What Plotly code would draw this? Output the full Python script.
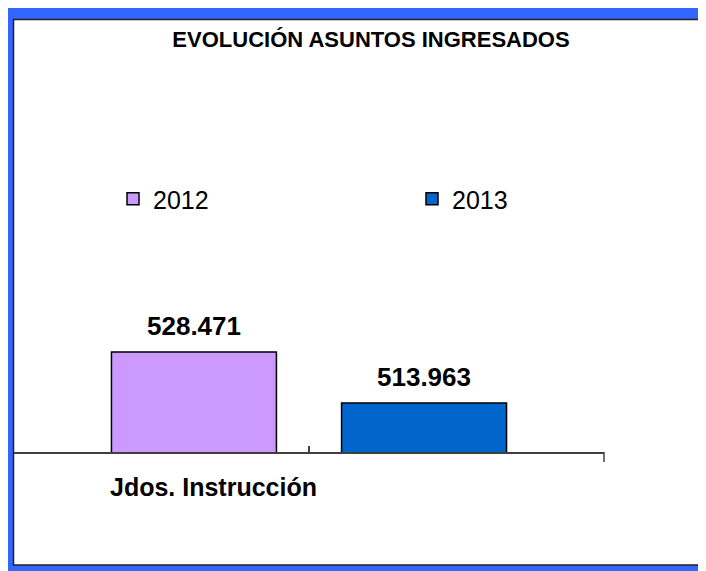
import plotly.graph_objects as go

# ---- data ----
categories = ["Jdos. Instrucción"]
series_names = ["2012", "2013"]
values_2012 = [528471]
values_2013 = [513963]
title_text = "EVOLUCIÓN ASUNTOS INGRESADOS"

colors = {"2012": "#CC99FF", "2013": "#0066CC"}
# page body has an 8px margin; figure fills the rest of the 706x571 window
OFF = 8
W, H = 706 - OFF, 571 - OFF
FONT = "Liberation Sans, Arial, sans-serif"


def px_x(p):
    """screen x (reference coords) -> paper x"""
    return (p - OFF) / W


def px_y(p):
    """screen y (reference coords) -> paper y"""
    return 1 - (p - OFF) / H


fig = go.Figure()
legend_ids = ["legend", "legend2"]
for name, vals, lg in zip(series_names, [values_2012, values_2013], legend_ids):
    fig.add_trace(go.Bar(
        x=categories, y=vals, name=name, legend=lg, showlegend=True,
        marker=dict(color=colors[name], line=dict(color="#000000", width=1.5)),
        hoverinfo="x+y+name",
    ))


def fmt(v):
    return f"{v:,}".replace(",", ".")


annotations = []
shifts = [-115, 115]
for (name, vals), xs in zip(zip(series_names, [values_2012, values_2013]), shifts):
    for c, v in zip(categories, vals):
        annotations.append(dict(
            x=c, y=v, xref="x", yref="y", text=f"<b>{fmt(v)}</b>",
            showarrow=False, xshift=xs, yshift=26, yanchor="middle",
            font=dict(family=FONT, size=26, color="#000000"),
        ))

# category label (offset to the left as in the original)
annotations.append(dict(
    x=categories[0], y=px_y(487), xref="x", yref="paper", text=f"<b>{categories[0]}</b>",
    showarrow=False, xshift=-96, xanchor="center", yanchor="middle",
    font=dict(family=FONT, size=25, color="#000000"),
))

shapes = [
    # blue frame
    dict(type="rect", xref="paper", yref="paper", x0=0, x1=1.0,
         y0=0, y1=1.0, fillcolor="#3366FF", line=dict(width=0), layer="below"),
    # white inner box with dark border
    dict(type="rect", xref="paper", yref="paper", x0=px_x(13.5), x1=px_x(702),
         y0=px_y(565), y1=px_y(19.5), fillcolor="#FFFFFF",
         line=dict(color="#202020", width=1.5), layer="below"),
    # tick at right end of category axis
    dict(type="line", xref="paper", yref="paper", x0=px_x(604), x1=px_x(604),
         y0=px_y(452), y1=px_y(462), line=dict(color="#404040", width=1.5)),
]

legend_style = dict(orientation="h", xanchor="left", yanchor="middle",
                    font=dict(family=FONT, size=25, color="#000000"),
                    bgcolor="rgba(0,0,0,0)", borderwidth=0)

fig.update_layout(
    width=W, height=H, autosize=False, showlegend=True,
    margin=dict(l=0, r=0, t=0, b=0),
    paper_bgcolor="#FFFFFF", plot_bgcolor="rgba(0,0,0,0)",
    separators=",.",
    barmode="group", bargap=0.22, bargroupgap=0.283,
    title=dict(text=f"<b>{title_text}</b>", x=px_x(371), y=px_y(39),
               xanchor="center", yanchor="middle",
               font=dict(family=FONT, size=22, color="#000000")),
    xaxis=dict(domain=[px_x(14), px_x(604)], showline=True, linecolor="#404040",
               linewidth=1.5, ticks="inside", ticklen=6, tickcolor="#404040",
               tickwidth=1.5, showticklabels=False, showgrid=False, zeroline=False,
               fixedrange=True),
    yaxis=dict(domain=[px_y(452), px_y(101)], range=[500000, 600000], visible=False,
               showgrid=False, zeroline=False, fixedrange=True),
    legend=dict(x=px_x(113), y=px_y(199), **legend_style),
    legend2=dict(x=px_x(412), y=px_y(199), **legend_style),
    annotations=annotations,
    shapes=shapes,
)

fig.write_html("out.html")
